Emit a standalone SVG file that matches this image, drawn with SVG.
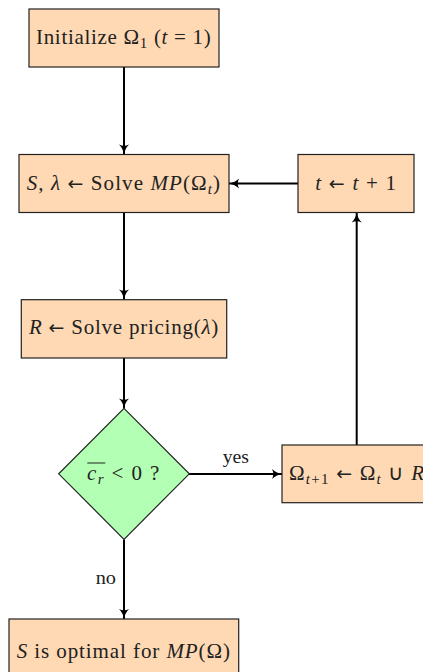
<svg xmlns="http://www.w3.org/2000/svg" width="423" height="672" viewBox="0 0 423 672">
<style>
text{font-family:"Liberation Serif","Times New Roman",serif;font-size:21px;fill:#222;}
.box{fill:#FFD9B3;stroke:#222;stroke-width:1.2;}
.dia{fill:#B3FFB3;stroke:#222;stroke-width:1.2;}
.i{font-style:italic;}
.sub{font-size:15px;}
.ar{font-family:"DejaVu Sans",sans-serif;font-size:19px;}
.lbl{font-size:19px;}
.c{stroke:#000;stroke-width:2;fill:none;marker-end:url(#ah);}
</style>
<defs>
<marker id="ah" markerWidth="12" markerHeight="12" viewBox="0 0 12 12" refX="11" refY="6" orient="auto" markerUnits="userSpaceOnUse">
<path d="M1,1 Q5,5 11,6 Q5,7 1,11 Q3.5,6 1,1 Z" fill="#000"/>
</marker>
</defs>
<g id="connectors">
<line class="c" x1="124" y1="67" x2="124" y2="154.5"/>
<line class="c" x1="124" y1="212.5" x2="124" y2="299.5"/>
<line class="c" x1="124" y1="358" x2="124" y2="408.5"/>
<line class="c" x1="189" y1="474" x2="282" y2="474"/>
<line class="c" x1="124" y1="539.5" x2="124" y2="619"/>
<line class="c" x1="356.7" y1="445" x2="356.7" y2="212.5"/>
<line class="c" x1="298" y1="183.5" x2="229" y2="183.5"/>
<text class="lbl" x="222.7" y="463" textLength="26.3" lengthAdjust="spacingAndGlyphs">yes</text>
<text class="lbl" x="95.7" y="584" textLength="20.3" lengthAdjust="spacingAndGlyphs">no</text>
</g>
<g id="init">
<rect class="box" x="29" y="9" width="190" height="58"/>
<text x="36" y="44" textLength="174.7">Initialize Ω<tspan class="sub" dy="4">1</tspan><tspan dy="-4">  (</tspan><tspan class="i">t</tspan> = 1)</text>
</g>
<g id="solve_mp">
<rect class="box" x="19" y="154.5" width="210" height="58"/>
<text x="26.7" y="190" textLength="193.3"><tspan class="i">S</tspan>, <tspan class="i">λ</tspan> <tspan class="ar">←</tspan> Solve <tspan class="i">MP</tspan>(Ω<tspan class="sub i" dy="4">t</tspan><tspan dy="-4">)</tspan></text>
</g>
<g id="incr">
<rect class="box" x="298" y="154.5" width="116" height="58"/>
<text x="315.3" y="190" textLength="80.7"><tspan class="i">t</tspan> <tspan class="ar">←</tspan> <tspan class="i">t</tspan> + 1</text>
</g>
<g id="pricing">
<rect class="box" x="21.3" y="299.7" width="205.4" height="58.3"/>
<text x="29" y="334.3" textLength="189.3"><tspan class="i">R</tspan> <tspan class="ar">←</tspan> Solve pricing(<tspan class="i">λ</tspan>)</text>
</g>
<g id="decision">
<polygon class="dia" points="124,408.3 189.3,473.8 124,539.3 58.7,473.8"/>
<line x1="87.3" y1="463" x2="105.3" y2="463" stroke="#222" stroke-width="1"/>
<text x="87" y="480" textLength="72.3"><tspan class="i">c</tspan><tspan class="sub i" dy="4">r</tspan><tspan dy="-4">  &lt;  0 ?</tspan></text>
</g>
<g id="update">
<rect class="box" x="282" y="445" width="149" height="57.7"/>
<text x="289" y="480" textLength="135"><tspan>Ω</tspan><tspan class="sub" dy="4"><tspan class="i">t</tspan>+1</tspan><tspan dy="-4"> </tspan><tspan class="ar">←</tspan> Ω<tspan class="sub i" dy="4">t</tspan><tspan dy="-4"> ∪ </tspan><tspan class="i">R</tspan></text>
</g>
<g id="optimal">
<rect class="box" x="9" y="619" width="229.7" height="58"/>
<text x="16.7" y="657.7" textLength="213.3"><tspan class="i">S</tspan> is optimal for <tspan class="i">MP</tspan>(Ω)</text>
</g>
</svg>
